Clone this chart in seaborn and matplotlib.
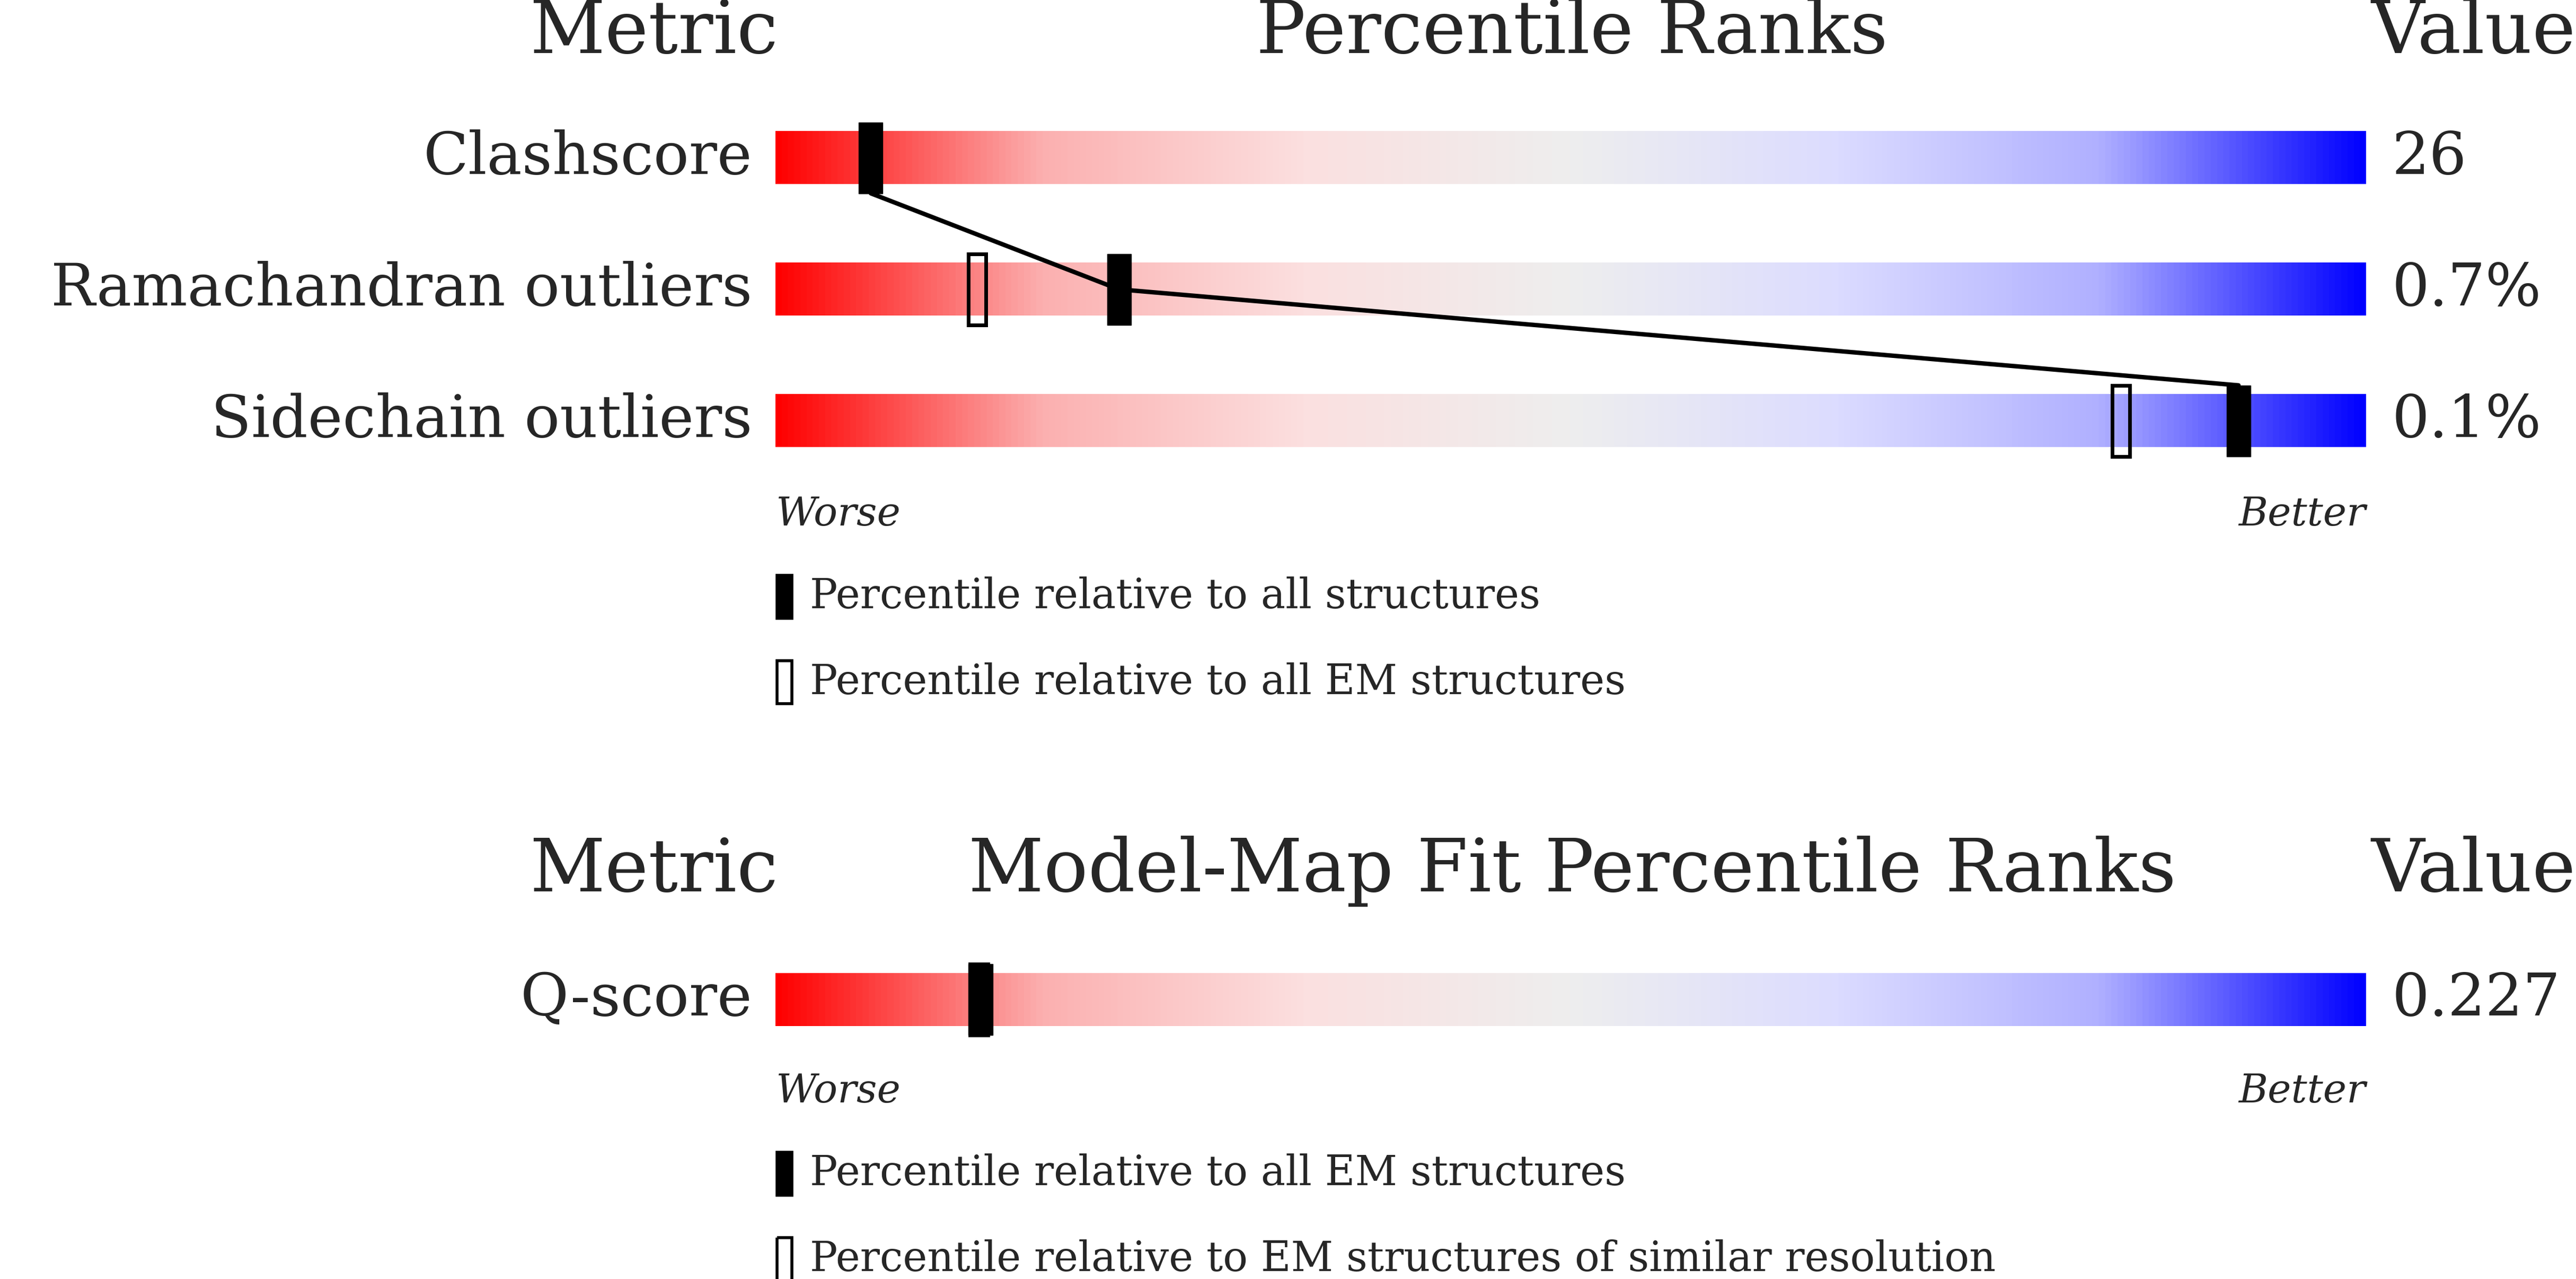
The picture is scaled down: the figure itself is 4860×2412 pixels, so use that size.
import numpy as np
import seaborn as sns
import matplotlib.pyplot as plt
from matplotlib.colors import LinearSegmentedColormap
from matplotlib.patches import Rectangle

metrics = ["Clashscore", "Ramachandran outliers", "Sidechain outliers"]
values = ["26", "0.7%", "0.1%"]
pct_all = [6.0, 21.6, 92.0]
pct_em = [None, 12.7, 84.6]

fit_metrics = ["Q-score"]
fit_values = ["0.227"]
fit_pct_all = [12.9]
fit_pct_res = [12.8]

W, H = 1568, 778  # layout units (scaled reference)
sns.set_style("white")
plt.rcParams["font.family"] = ["DejaVu Serif"]

fig = plt.figure(figsize=(48.6, 24.12), dpi=100)
cmap = LinearSegmentedColormap.from_list(
    "qual", ["#ff0000", "#fbb0b0", "#fbe0e0", "#eeeeee", "#dcdcff", "#b0b0ff", "#0000ff"])
grad = np.linspace(0, 1, 512)[None, :]


def panel(top, n):
    # rows are 80 units apart, bars 32 units tall
    ax = fig.add_axes([472 / W, 1 - (top + 80 * n) / H, 968 / W, 80 * n / H])
    ax.set_xlim(0, 100)
    ax.set_ylim(n - 0.5, -0.5)
    ax.axis("off")
    for i in range(n):
        ax.imshow(grad, cmap=cmap, aspect="auto", extent=(0, 100, i + 0.2, i - 0.2), zorder=1)
    return ax


def markers(ax, filled, hollow, line):
    h = 0.27
    for i, p in enumerate(hollow):
        if p is not None:
            ax.add_patch(Rectangle((p - 0.55, i - h), 1.1, 2 * h, fill=False,
                                   ec="black", lw=5, zorder=3))
    for i, p in enumerate(filled):
        ax.add_patch(Rectangle((p - 0.75, i - h), 1.5, 2 * h, fc="black", ec="black", zorder=4))
    if line and len(filled) > 1:
        xs, ys = [], []
        for i, p in enumerate(filled):
            if i > 0:
                xs.append(p); ys.append(i - h)
            if i < len(filled) - 1:
                xs.append(p); ys.append(i + h)
        sns.lineplot(x=xs, y=ys, sort=False, color="black", lw=6, ax=ax, zorder=2)


ax1 = panel(56, len(metrics))
markers(ax1, pct_all, pct_em, True)
ax2 = panel(568, len(fit_metrics))
markers(ax2, fit_pct_all, fit_pct_res, False)

ov = fig.add_axes([0, 0, 1, 1], zorder=-1)
ov.set_xlim(0, W)
ov.set_ylim(H, 0)
ov.axis("off")

HDR, LBL, SML, LEG = 100, 80, 54, 56


def headers(y, title):
    ov.text(398, y, "Metric", fontsize=HDR, ha="center", va="center")
    ov.text(957, y, title, fontsize=HDR, ha="center", va="center")
    ov.text(1568, y, "Value", fontsize=HDR, ha="right", va="center")


def rows(y0, names, vals):
    for i, (m, v) in enumerate(zip(names, vals)):
        ov.text(458, y0 + 80 * i, m, fontsize=LBL, ha="right", va="center")
        ov.text(1456, y0 + 80 * i, v, fontsize=LBL, ha="left", va="center")


def legend(y, labels):
    ov.text(472, y, "Worse", fontsize=SML, style="italic", ha="left", va="center")
    ov.text(1440, y, "Better", fontsize=SML, style="italic", ha="right", va="center")
    for k, (lab, fill) in enumerate(labels):
        yy = y + 50 + 52 * k
        ov.add_patch(Rectangle((473, yy - 13), 9, 26, fc="black" if fill else "none",
                               ec="black", lw=4))
        ov.text(493, yy, lab, fontsize=LEG, ha="left", va="center")


headers(20, "Percentile Ranks")
rows(96, metrics, values)
legend(313, [("Percentile relative to all structures", True),
             ("Percentile relative to all EM structures", False)])

headers(530, "Model-Map Fit Percentile Ranks")
rows(608, fit_metrics, fit_values)
legend(664, [("Percentile relative to all EM structures", True),
             ("Percentile relative to EM structures of similar resolution", False)])

fig.savefig("out.png", dpi=100)
